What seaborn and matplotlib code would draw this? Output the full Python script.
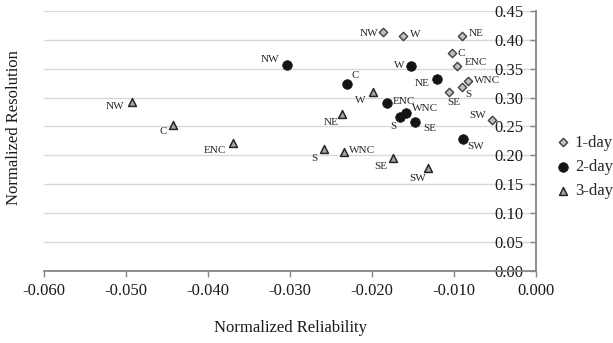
import numpy as np
import pandas as pd
import matplotlib
matplotlib.use('Agg')
import matplotlib.pyplot as plt
import seaborn as sns

# data
regions = ['NW', 'W', 'NE', 'C', 'ENC', 'WNC', 'S', 'SE', 'SW']
rel_1day = [-0.0186, -0.0162, -0.0090, -0.0103, -0.0096, -0.0083, -0.0090, -0.0106, -0.0054]
res_1day = [0.414, 0.406, 0.406, 0.378, 0.354, 0.329, 0.318, 0.310, 0.261]
rel_2day = [-0.0304, -0.0153, -0.0121, -0.0230, -0.0182, -0.0158, -0.0166, -0.0147, -0.0089]
res_2day = [0.356, 0.355, 0.332, 0.323, 0.291, 0.273, 0.267, 0.258, 0.228]
rel_3day = [-0.0493, -0.0199, -0.0237, -0.0443, -0.0369, -0.0234, -0.0258, -0.0175, -0.0132]
res_3day = [0.292, 0.310, 0.272, 0.252, 0.221, 0.205, 0.211, 0.196, 0.177]
leads = ['1-day', '2-day', '3-day']
yticks = np.arange(0, 0.451, 0.05)
xticks = np.arange(-0.06, 0.0001, 0.01)

df = pd.DataFrame({
    'reliability': rel_1day + rel_2day + rel_3day,
    'resolution': res_1day + res_2day + res_3day,
    'lead': sum([[l] * len(regions) for l in leads], []),
    'region': regions * 3,
})

# label offsets in points (dx, dy, ha)
offsets = {
    '1-day': {'NW': (-3.5, -1, 'right'), 'W': (5, 1, 'left'), 'NE': (5, 2, 'left'),
              'C': (4.5, -1, 'left'), 'ENC': (5, 2.5, 'left'), 'WNC': (4.5, 0.5, 'left'),
              'S': (2, -5, 'left'), 'SE': (3, -8, 'center'), 'SW': (-4, 3.5, 'right')},
    '2-day': {'NW': (-5, 4, 'right'), 'W': (-4.5, 0.5, 'right'), 'NE': (-5, -3, 'right'),
              'C': (3, 6, 'left'), 'ENC': (4, 1, 'left'), 'WNC': (4, 3.5, 'left'),
              'S': (-4.5, -7, 'center'), 'SE': (5.5, -5, 'left'), 'SW': (3, -5.5, 'left')},
    '3-day': {'NW': (-5, -3, 'right'), 'W': (-5, -6, 'right'), 'NE': (-2.5, -6, 'right'),
              'C': (-4.5, -4.5, 'right'), 'ENC': (-5, -5, 'right'), 'WNC': (3.5, 1.5, 'left'),
              'S': (-5, -7, 'right'), 'SE': (-3.5, -6.5, 'right'), 'SW': (-7, -7.5, 'center')},
}

styles = {
    '1-day': dict(marker='D', s=18, color='#c0c0c0', edgecolor='#404040', linewidth=1.0),
    '2-day': dict(marker='o', s=48, color='#141414', edgecolor='#141414', linewidth=0.5),
    '3-day': dict(marker='^', s=32, color='#a6a6a6', edgecolor='#262626', linewidth=1.1),
}

sns.set_style('white')
plt.rcParams['font.family'] = ['Liberation Serif', 'DejaVu Serif']

fig = plt.figure(figsize=(6.13, 3.43), dpi=100)
ax = fig.add_axes([0.0718, 0.211, 0.8026, 0.757])

for lead in leads:
    sub = df[df['lead'] == lead]
    sns.scatterplot(data=sub, x='reliability', y='resolution', ax=ax, label=lead,
                    zorder=4, **styles[lead])
    for _, r in sub.iterrows():
        dx, dy, ha = offsets[lead][r['region']]
        ax.annotate(r['region'], (r['reliability'], r['resolution']),
                    xytext=(dx, dy), textcoords='offset points', ha=ha, va='center',
                    fontsize=8, color='#262626', zorder=5)

ax.set_xlim(-0.06, 0)
ax.set_ylim(0, 0.45)
ax.set_xticks(xticks)
ax.set_xticklabels(['%.3f' % v if abs(v) > 1e-9 else '0.000' for v in xticks])
ax.set_yticks(yticks)
ax.set_yticklabels(['%.2f' % v for v in yticks])

ax.grid(axis='y', color='#d9d9d9', linewidth=1.0)
ax.grid(axis='x', visible=False)
ax.set_axisbelow(True)

for side in ['left', 'top']:
    ax.spines[side].set_visible(False)
for side in ['right', 'bottom']:
    ax.spines[side].set_color('#868686')
    ax.spines[side].set_linewidth(1.3)

ax.tick_params(axis='x', bottom=True, direction='out', length=4, width=1,
               color='#868686', labelsize=12, pad=5, labelcolor='#1a1a1a')
ax.tick_params(axis='y', left=False, right=True, labelleft=False, labelright=True,
               direction='in', length=4, width=1, color='#868686', labelsize=12,
               pad=-9, labelcolor='#1a1a1a')
for lbl in ax.get_yticklabels():
    lbl.set_horizontalalignment('right')

ax.set_xlabel('Normalized Reliability', fontsize=12, labelpad=15, color='#1a1a1a')
ax.set_ylabel('Normalized Resolution', fontsize=12, color='#1a1a1a')
ax.yaxis.set_label_position('left')
ax.yaxis.set_label_coords(-0.045, 0.55)

ax.legend(loc='center left', bbox_to_anchor=(0.908, 0.513), bbox_transform=fig.transFigure,
          frameon=False, fontsize=12, handlelength=0.8, handletextpad=0.3,
          labelspacing=0.5, borderpad=0, borderaxespad=0)

fig.savefig('out.png', dpi=100)
